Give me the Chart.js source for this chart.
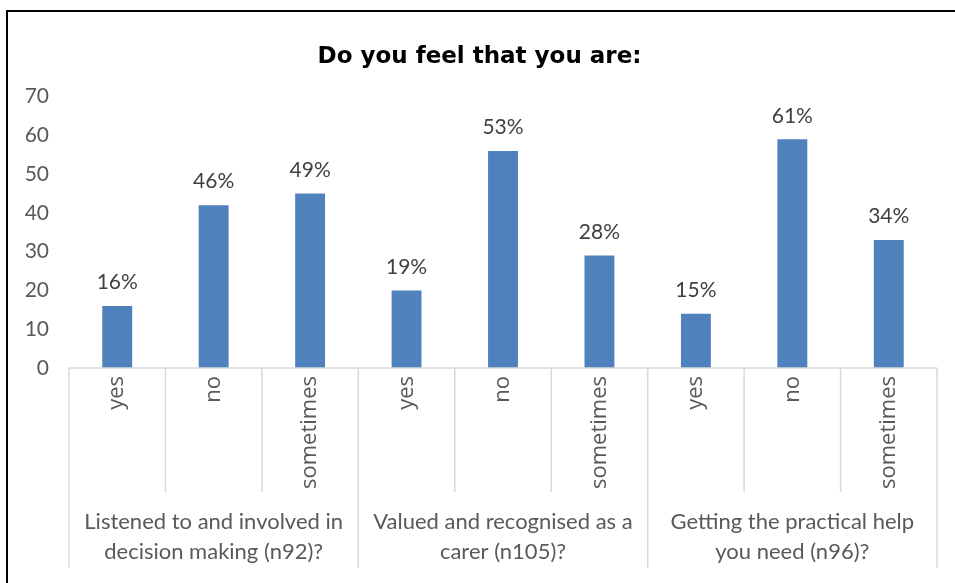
<!DOCTYPE html>
<html>
<head>
<meta charset="utf-8">
<script src="https://cdn.jsdelivr.net/npm/chart.js@4.4.0/dist/chart.umd.min.js"></script>
<style>
  body { margin: 0; background: #fff; overflow: hidden; }
  #wrap {
    position: absolute; left: 6px; top: 10px;
    width: 962px; height: 573px;
    border-left: 2px solid #000; border-top: 2px solid #000;
  }
</style>
</head>
<body>
<div id="wrap"><canvas id="chart" width="960" height="571"></canvas></div>
<script>
const answers = ["yes", "no", "sometimes", "yes", "no", "sometimes", "yes", "no", "sometimes"];
const groups = [
  ["Listened to and involved in", "decision making (n92)?"],
  ["Valued and recognised as a", "carer (n105)?"],
  ["Getting the practical help", "you need (n96)?"]
];
const counts = [16, 42, 45, 20, 56, 29, 14, 59, 33];
const percents = ["16%", "46%", "49%", "19%", "53%", "28%", "15%", "61%", "34%"];

const font = "Lato, 'Open Sans', sans-serif";
const wideFont = "'Open Sans', sans-serif";

// percentage labels over the bars
const barLabels = {
  id: "barLabels",
  afterDatasetsDraw(chart) {
    const ctx = chart.ctx;
    const meta = chart.getDatasetMeta(0);
    ctx.save();
    ctx.fillStyle = "#404040";
    ctx.font = "21px " + font;
    ctx.textAlign = "center";
    ctx.textBaseline = "bottom";
    meta.data.forEach((bar, i) => {
      ctx.fillText(percents[i], bar.x, bar.y - 13);
    });
    ctx.restore();
  }
};

// axis line and category separators
const separators = {
  id: "separators",
  afterDraw(chart) {
    const ctx = chart.ctx;
    const x = chart.scales.x;
    const x2 = chart.scales.x2;
    const step = x.getPixelForValue(1) - x.getPixelForValue(0);
    ctx.save();
    ctx.strokeStyle = "#d9d9d9";
    ctx.lineWidth = 1.5;
    ctx.beginPath();
    ctx.moveTo(x.left, x.top);
    ctx.lineTo(x.right, x.top);
    for (let i = 0; i <= answers.length; i++) {
      const px = x.getPixelForValue(0) - step / 2 + i * step;
      ctx.moveTo(px, x.top);
      ctx.lineTo(px, i % 3 === 0 ? x2.bottom : x.bottom);
    }
    ctx.stroke();
    ctx.restore();
  }
};

new Chart(document.getElementById("chart"), {
  type: "bar",
  data: {
    labels: answers,
    datasets: [{
      data: counts,
      backgroundColor: "#4f81bd",
      barPercentage: 0.31,
      categoryPercentage: 1
    }]
  },
  options: {
    responsive: false,
    animation: false,
    layout: { padding: { left: 14, right: 31, bottom: 15 } },
    plugins: {
      legend: { display: false },
      tooltip: { enabled: false },
      title: {
        display: true,
        text: "Do you feel that you are:",
        color: "#000",
        font: { family: "'DejaVu Sans', sans-serif", size: 23, weight: "bold" },
        padding: { top: 31, bottom: 26 }
      }
    },
    scales: {
      y: {
        min: 0, max: 70,
        ticks: { stepSize: 10, color: "#595959", font: { family: font, size: 21 }, padding: 12 },
        grid: { display: false },
        border: { display: false },
        afterFit(s) { s.width = 47; }
      },
      x: {
        ticks: {
          color: "#595959", font: { family: wideFont, size: 22 },
          minRotation: 90, maxRotation: 90, padding: 8
        },
        grid: { display: false, drawTicks: false },
        border: { display: false },
        afterFit(s) { s.height = 124; }
      },
      x2: {
        type: "category",
        labels: groups,
        position: "bottom",
        offset: true,
        ticks: { color: "#595959", font: { family: font, size: 22, lineHeight: 1.35 }, padding: 15, maxRotation: 0 },
        grid: { display: false, drawTicks: false },
        border: { display: false },
        afterFit(s) { s.height = 76; }
      }
    }
  },
  plugins: [barLabels, separators]
});
</script>
</body>
</html>
